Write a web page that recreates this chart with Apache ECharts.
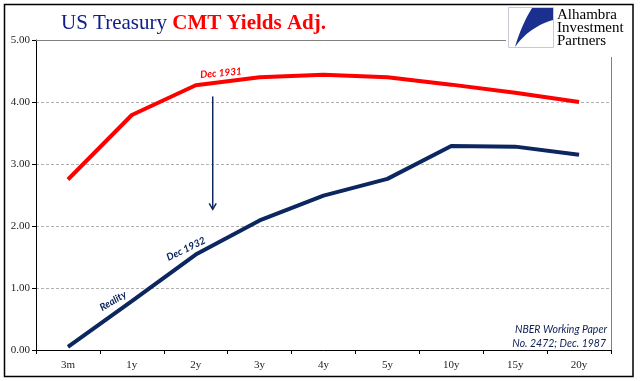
<!DOCTYPE html>
<html><head><meta charset="utf-8">
<script src="https://cdn.jsdelivr.net/npm/echarts@6/dist/echarts.min.js"></script>
<style>html,body{margin:0;padding:0;background:#fff}#c{width:641px;height:381px}</style>
</head><body><div id="c"></div>
<script>
const categories = ['3m','1y','2y','3y','4y','5y','10y','15y','20y'];
const dec1931 = [2.75, 3.79, 4.27, 4.40, 4.44, 4.40, 4.28, 4.15, 4.00];
const dec1932 = [0.05, 0.79, 1.54, 2.09, 2.49, 2.76, 3.29, 3.28, 3.15];
const yTicks = [0, 1, 2, 3, 4, 5];

const NAVY = '#0c2660';
const RED = '#ff0000';
const chart = echarts.init(document.getElementById('c'), null, {renderer:'canvas'});
const serif = '"Liberation Serif", "DejaVu Serif", serif';
const sans = 'Lato, "Open Sans", sans-serif';

chart.setOption({
  animation: false,
  backgroundColor: '#fff',
  title: {
    left: 56, top: 8,
    text: '{a|US Treasury }{b|CMT Yields Adj.}',
    textStyle: {
      rich: {
        a: {fontFamily: serif, fontSize: 21, fontWeight: 'normal', color: '#10208a'},
        b: {fontFamily: serif, fontSize: 21, fontWeight: 'bold', color: RED}
      }
    }
  },
  grid: {left: 36, right: 30, top: 40, bottom: 31, show: false},
  xAxis: {
    type: 'category', data: categories, boundaryGap: true,
    axisLine: {lineStyle: {color: '#000', width: 1}},
    axisTick: {show: true, inside: false, length: 4, lineStyle: {color: '#000'}},
    axisLabel: {fontFamily: serif, fontSize: 11, color: '#222', margin: 10},
    splitLine: {show: false}
  },
  yAxis: {
    type: 'value', min: yTicks[0], max: yTicks[yTicks.length-1], interval: 1,
    axisLine: {show: true, lineStyle: {color: '#000', width: 1}},
    axisTick: {show: true, length: 4, lineStyle: {color: '#000'}},
    axisLabel: {fontFamily: serif, fontSize: 11, color: '#222', margin: 6,
      formatter: v => v.toFixed(2)},
    splitLine: {show: true, lineStyle: {color: '#b0b0b0', type: [3, 2], width: 1}}
  },
  series: [
    {name: 'Dec 1931', type: 'line', data: dec1931, symbol: 'none',
     lineStyle: {color: RED, width: 4}, z: 3},
    {name: 'Dec 1932', type: 'line', data: dec1932, symbol: 'none',
     lineStyle: {color: NAVY, width: 4}, z: 4}
  ]
});

const gridRect = chart.getModel().getComponent('grid').coordinateSystem.getRect();
const gx1 = gridRect.x + gridRect.width, gy0 = gridRect.y, gy1 = gridRect.y + gridRect.height;

function pt(ci, v, dx) {
  const p = chart.convertToPixel({gridIndex:0}, [ci, v]);
  return [p[0] + (dx||0), p[1]];
}
const arrowTop = pt(2, 4.09, 17);
const arrowBot = pt(2, 2.27, 17);

function quad(p0, c, p1, n) {
  const out = [];
  for (let i = 0; i <= n; i++) {
    const t = i / n;
    out.push([(1-t)*(1-t)*p0[0] + 2*(1-t)*t*c[0] + t*t*p1[0],
              (1-t)*(1-t)*p0[1] + 2*(1-t)*t*c[1] + t*t*p1[1]]);
  }
  return out;
}
const swoosh = [[532,8],[553,8],[553,20]]
  .concat(quad([553,20],[529,27],[515,47],14))
  .concat(quad([515,47],[521,26],[532,8],10));

chart.setOption({
  graphic: [
    {type:'rect', shape:{x:4.5, y:4.5, width:628.5, height:372}, style:{fill:'none', stroke:'#000', lineWidth:1.5}, z:1},
    {type:'line', shape:{x1:gridRect.x, y1:gy0+0.5, x2:gx1, y2:gy0+0.5}, style:{stroke:'#808080', lineWidth:1}, z:2},
    {type:'line', shape:{x1:gx1+0.5, y1:gy0, x2:gx1+0.5, y2:gy1}, style:{stroke:'#808080', lineWidth:1}, z:2},
    {type:'rect', shape:{x:506, y:6, width:125, height:51}, style:{fill:'#fff'}, z:50},
    {type:'rect', shape:{x:508.5, y:7.5, width:45, height:40}, style:{fill:'#fff', stroke:'#c8c8d8', lineWidth:1}, z:51},
    {type:'polygon', shape:{points: swoosh}, style:{fill:'#1b2f8f'}, z:52},
    {type:'text', x:557, y:8, style:{text:'Alhambra', font:'15px "Liberation Serif", serif', fill:'#000'}, z:52},
    {type:'text', x:557, y:21, style:{text:'Investment', font:'15px "Liberation Serif", serif', fill:'#000'}, z:52},
    {type:'text', x:557, y:34, style:{text:'Partners', font:'15px "Liberation Serif", serif', fill:'#000'}, z:52},
    {type:'line', shape:{x1:arrowTop[0], y1:arrowTop[1], x2:arrowBot[0], y2:arrowBot[1]}, style:{stroke:NAVY, lineWidth:1.5}, z:10},
    {type:'polyline', shape:{points:[[arrowBot[0]-3.5, arrowBot[1]-6],[arrowBot[0], arrowBot[1]],[arrowBot[0]+3.5, arrowBot[1]-6]]}, style:{stroke:NAVY, lineWidth:1.5, fill:'none'}, z:10},
    {type:'text', x:221, y:73, rotation:5*Math.PI/180, style:{text:'Dec 1931', font:'italic bold 10px ' + sans, fill:RED, align:'center', verticalAlign:'middle'}, z:10},
    {type:'text', x:186, y:249, rotation:26*Math.PI/180, style:{text:'Dec 1932', font:'italic bold 10px ' + sans, fill:NAVY, align:'center', verticalAlign:'middle'}, z:10},
    {type:'text', x:113, y:301, rotation:31*Math.PI/180, style:{text:'Reality', font:'italic bold 10px ' + sans, fill:NAVY, align:'center', verticalAlign:'middle'}, z:10},
    {type:'text', x:607, y:330, style:{text:'NBER Working Paper', font:'italic 10.5px ' + sans, fill:'#0c1f55', align:'right', verticalAlign:'middle'}, z:10},
    {type:'text', x:606, y:344, style:{text:'No. 2472; Dec. 1987', font:'italic 10.5px ' + sans, fill:'#0c1f55', align:'right', verticalAlign:'middle'}, z:10}
  ]
});
</script></body></html>
